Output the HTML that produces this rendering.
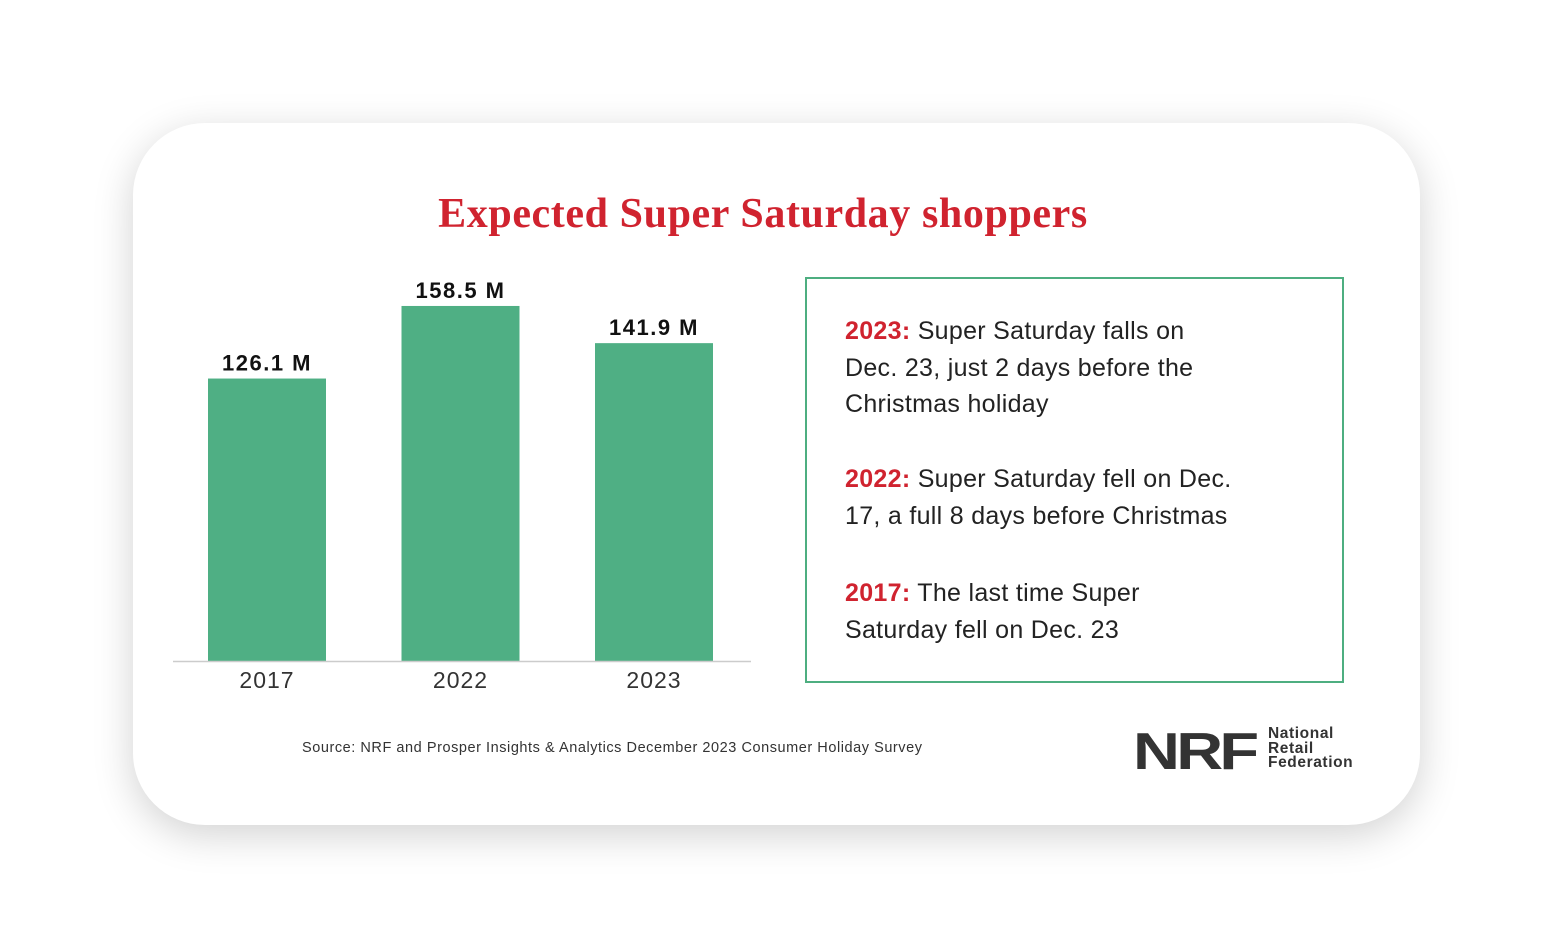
<!DOCTYPE html>
<html><head><meta charset="utf-8"><style>
body{margin:0;width:1554px;height:948px;background:#fff;position:relative;overflow:hidden;font-family:"Liberation Sans",sans-serif}
.card{position:absolute;left:133px;top:123px;width:1287px;height:702px;border-radius:72px;background:#fff;box-shadow:0 10px 40px rgba(0,0,0,0.18)}
.title{position:absolute;left:0;width:1526px;top:190px;text-align:center;font-family:"Liberation Serif",serif;font-weight:bold;font-size:42px;color:#d0232f;letter-spacing:0.6px}
.box{position:absolute;left:805px;top:277px;width:535px;height:402px;border:2px solid #4eae80}
.p{position:absolute;left:38px;font-size:25px;line-height:36.5px;color:#222;width:520px;white-space:nowrap;letter-spacing:0.3px}
.p b{color:#d0232f}
.src{position:absolute;left:302px;top:740px;font-size:14.5px;color:#333;letter-spacing:0.55px;white-space:nowrap}
</style></head><body>
<div class="card"></div>
<div class="title">Expected Super Saturday shoppers</div>
<svg id="chart" width="1554" height="948" style="position:absolute;left:0;top:0"></svg>
<div class="box">
<div class="p" style="top:34px"><b>2023:</b> Super Saturday falls on<br>Dec. 23, just 2 days before the<br>Christmas holiday</div>
<div class="p" style="top:182px"><b>2022:</b> Super Saturday fell on Dec.<br>17, a full 8 days before Christmas</div>
<div class="p" style="top:296px"><b>2017:</b> The last time Super<br>Saturday fell on Dec. 23</div>
</div>
<div class="src">Source: NRF and Prosper Insights &amp; Analytics December 2023 Consumer Holiday Survey</div>
<div style="position:absolute;left:1133px;top:722px;font-weight:900;font-size:52px;color:#333;letter-spacing:-3px;transform:scaleX(1.25);transform-origin:left">NRF</div>
<div style="position:absolute;left:1268px;top:727px;font-weight:bold;font-size:15.5px;line-height:14.5px;color:#333;letter-spacing:0.6px">National<br>Retail<br>Federation</div>
<script>
const categories=["2017","2022","2023"];
const values=[126.1,158.5,141.9];
const labels=["126.1 M","158.5 M","141.9 M"];
const svg=document.getElementById('chart');
const NS="http://www.w3.org/2000/svg";
const base=661,scale=2.24,x0=208,step=193.5,bw=118;
const y=v=>base-v*scale;
function mk(t,a){const e=document.createElementNS(NS,t);for(const k in a)e.setAttribute(k,a[k]);svg.appendChild(e);return e;}
values.forEach((v,i)=>{
 const x=x0+i*step;
 const r=mk('rect',{x:x,y:y(v),width:bw,height:base-y(v),fill:'#4faf84'});
 
 
 const t=mk('text',{x:x+bw/2,y:y(v)-8,'text-anchor':'middle','font-size':'22','font-weight':'bold',fill:'#111','font-family':'Liberation Sans','letter-spacing':'1.5'});
 t.textContent=labels[i];
 
 
 const c=mk('text',{x:x+bw/2,y:base+27,'text-anchor':'middle','font-size':'23',fill:'#333','font-family':'Liberation Sans','letter-spacing':'1'});
 c.textContent=categories[i];
 
 
});
const ax=mk('line',{x1:173,x2:751,y1:base+0.5,y2:base+0.5,stroke:'#ccc','stroke-width':1.5});


</script>
</body></html>
